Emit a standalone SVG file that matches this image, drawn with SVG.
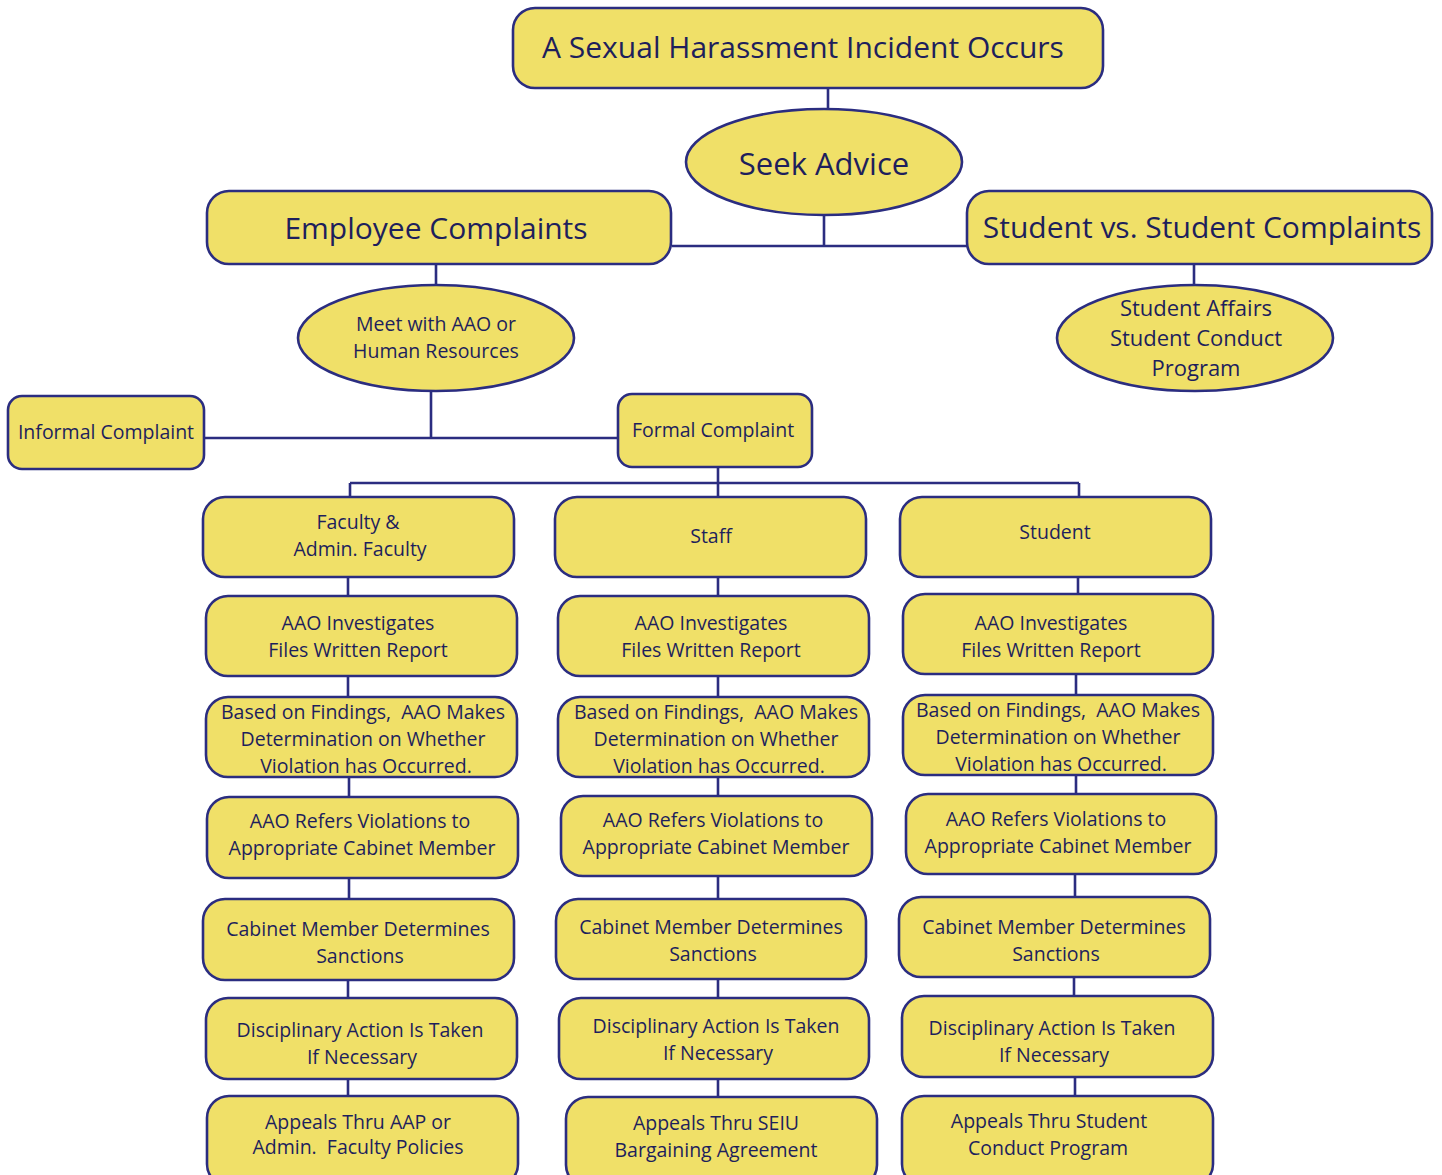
<svg xmlns="http://www.w3.org/2000/svg" width="1442" height="1175" viewBox="0 0 1442 1175">
<style>
.b{fill:#F0E068;stroke:#2B2D80;stroke-width:2.6}
.c{fill:none;stroke:#2B2D80;stroke-width:2.6}
text{font-family:"Open Sans","Noto Sans",sans-serif;fill:#1E1F5C;text-anchor:middle;white-space:pre}
.s{font-size:19.5px}
.m{font-size:22px}
.l{font-size:30px}
</style>
<rect width="1442" height="1175" fill="#fff"/>
<g id="connectors" class="c">
<path d="M828 88V110"/>
<path d="M824 215V246M672 246H967"/>
<path d="M436 264V286"/>
<path d="M1194 264V286"/>
<path d="M431 391V438M204 438H618"/>
<path d="M718 467V497M350 483H1079M350 483V497M1079 483V497"/>
<path d="M348 577V596M348 676V697M349 777V797M349 878V899M348 980V998M348 1079V1096"/>
<path d="M718 577V596M718 676V697M718 777V796M718 876V899M718 979V998M718 1079V1097"/>
<path d="M1078 577V594M1076 674V695M1076 775V794M1075 874V897M1074 977V996M1075 1077V1096"/>
</g>
<g id="n-incident"><rect class="b" x="513" y="8" width="590" height="80" rx="22"/><text class="l" x="803" y="58">A Sexual Harassment Incident Occurs</text></g>
<g id="n-seek"><ellipse class="b" cx="824" cy="162" rx="138" ry="53"/><text x="824" y="175" style="font-size:31px">Seek Advice</text></g>
<g id="n-employee"><rect class="b" x="207" y="191" width="464" height="73" rx="22"/><text class="l" x="436" y="239">Employee Complaints</text></g>
<g id="n-student"><rect class="b" x="967" y="191" width="465" height="73" rx="22"/><text class="l" x="1202" y="238">Student vs. Student Complaints</text></g>
<g id="n-meet"><ellipse class="b" cx="436" cy="338" rx="138" ry="53"/><text class="s" x="436" y="331">Meet with AAO or</text><text class="s" x="436" y="358">Human Resources</text></g>
<g id="n-affairs"><ellipse class="b" cx="1195" cy="338" rx="138" ry="53"/><text class="m" x="1196" y="316">Student Affairs</text><text class="m" x="1196" y="346">Student Conduct</text><text class="m" x="1196" y="376">Program</text></g>
<g id="n-informal"><rect class="b" x="8" y="396" width="196" height="73" rx="14"/><text class="s" x="106" y="439">Informal Complaint</text></g>
<g id="n-formal"><rect class="b" x="618" y="394" width="194" height="73" rx="14"/><text class="s" x="713" y="437">Formal Complaint</text></g>

<g id="n-faculty"><rect class="b" x="203" y="497" width="311" height="80" rx="22"/><text class="s" x="358" y="529">Faculty &amp;</text><text class="s" x="360" y="556">Admin. Faculty</text></g>
<g id="n-f-inv"><rect class="b" x="206" y="596" width="311" height="80" rx="22"/><text class="s" x="358" y="630">AAO Investigates</text><text class="s" x="358" y="657">Files Written Report</text></g>
<g id="n-f-det"><rect class="b" x="206" y="697" width="311" height="80" rx="22"/><text class="s" x="363" y="719">Based on Findings,  AAO Makes</text><text class="s" x="363" y="746">Determination on Whether</text><text class="s" x="366" y="773">Violation has Occurred.</text></g>
<g id="n-f-ref"><rect class="b" x="207" y="797" width="311" height="81" rx="22"/><text class="s" x="360" y="828">AAO Refers Violations to</text><text class="s" x="362" y="855">Appropriate Cabinet Member</text></g>
<g id="n-f-cab"><rect class="b" x="203" y="899" width="311" height="81" rx="22"/><text class="s" x="358" y="936">Cabinet Member Determines</text><text class="s" x="360" y="963">Sanctions</text></g>
<g id="n-f-dis"><rect class="b" x="206" y="998" width="311" height="81" rx="22"/><text class="s" x="360" y="1037">Disciplinary Action Is Taken</text><text class="s" x="362" y="1064">If Necessary</text></g>
<g id="n-f-app"><rect class="b" x="207" y="1096" width="311" height="90" rx="22"/><text class="s" x="358" y="1129">Appeals Thru AAP or</text><text class="s" x="358" y="1154">Admin.  Faculty Policies</text></g>

<g id="n-staff"><rect class="b" x="555" y="497" width="311" height="80" rx="22"/><text class="s" x="711" y="543">Staff</text></g>
<g id="n-s-inv"><rect class="b" x="558" y="596" width="311" height="80" rx="22"/><text class="s" x="711" y="630">AAO Investigates</text><text class="s" x="711" y="657">Files Written Report</text></g>
<g id="n-s-det"><rect class="b" x="558" y="697" width="311" height="80" rx="22"/><text class="s" x="716" y="719">Based on Findings,  AAO Makes</text><text class="s" x="716" y="746">Determination on Whether</text><text class="s" x="719" y="773">Violation has Occurred.</text></g>
<g id="n-s-ref"><rect class="b" x="561" y="796" width="311" height="80" rx="22"/><text class="s" x="713" y="827">AAO Refers Violations to</text><text class="s" x="716" y="854">Appropriate Cabinet Member</text></g>
<g id="n-s-cab"><rect class="b" x="556" y="899" width="310" height="80" rx="22"/><text class="s" x="711" y="934">Cabinet Member Determines</text><text class="s" x="713" y="961">Sanctions</text></g>
<g id="n-s-dis"><rect class="b" x="559" y="998" width="310" height="81" rx="22"/><text class="s" x="716" y="1033">Disciplinary Action Is Taken</text><text class="s" x="718" y="1060">If Necessary</text></g>
<g id="n-s-app"><rect class="b" x="566" y="1097" width="311" height="90" rx="22"/><text class="s" x="716" y="1130">Appeals Thru SEIU</text><text class="s" x="716" y="1157">Bargaining Agreement</text></g>

<g id="n-stud"><rect class="b" x="900" y="497" width="311" height="80" rx="22"/><text class="s" x="1055" y="539">Student</text></g>
<g id="n-t-inv"><rect class="b" x="903" y="594" width="310" height="80" rx="22"/><text class="s" x="1051" y="630">AAO Investigates</text><text class="s" x="1051" y="657">Files Written Report</text></g>
<g id="n-t-det"><rect class="b" x="903" y="695" width="310" height="80" rx="22"/><text class="s" x="1058" y="717">Based on Findings,  AAO Makes</text><text class="s" x="1058" y="744">Determination on Whether</text><text class="s" x="1061" y="771">Violation has Occurred.</text></g>
<g id="n-t-ref"><rect class="b" x="906" y="794" width="310" height="80" rx="22"/><text class="s" x="1056" y="826">AAO Refers Violations to</text><text class="s" x="1058" y="853">Appropriate Cabinet Member</text></g>
<g id="n-t-cab"><rect class="b" x="899" y="897" width="311" height="80" rx="22"/><text class="s" x="1054" y="934">Cabinet Member Determines</text><text class="s" x="1056" y="961">Sanctions</text></g>
<g id="n-t-dis"><rect class="b" x="902" y="996" width="311" height="81" rx="22"/><text class="s" x="1052" y="1035">Disciplinary Action Is Taken</text><text class="s" x="1054" y="1062">If Necessary</text></g>
<g id="n-t-app"><rect class="b" x="902" y="1096" width="311" height="90" rx="22"/><text class="s" x="1049" y="1128">Appeals Thru Student</text><text class="s" x="1048" y="1155">Conduct Program</text></g>
</svg>
